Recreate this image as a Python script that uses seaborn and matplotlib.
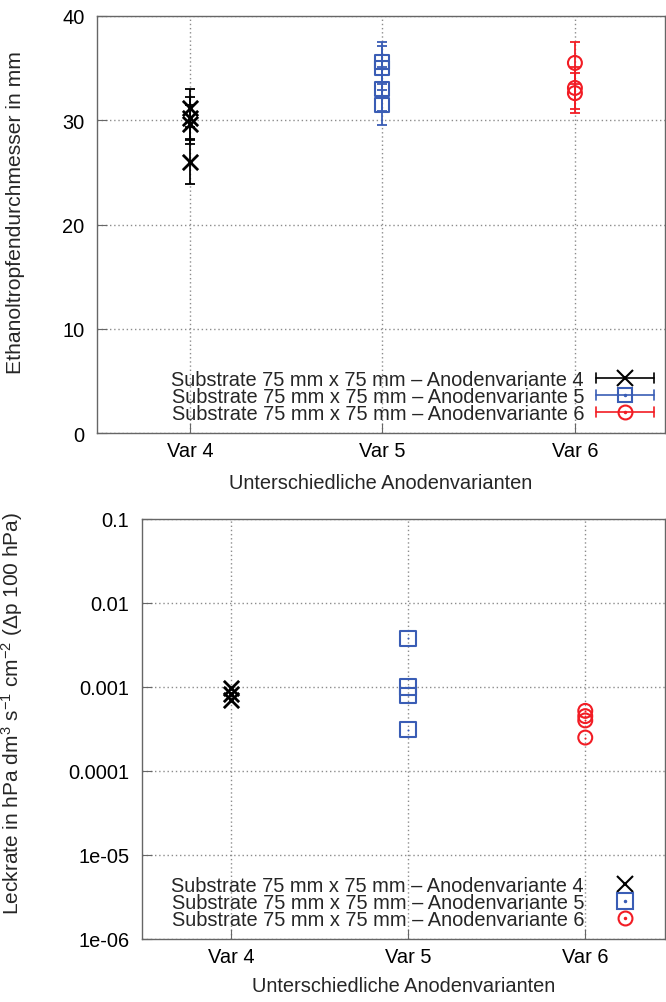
import numpy as np
import matplotlib
matplotlib.use("Agg")
import matplotlib.pyplot as plt
import seaborn as sns
from matplotlib.lines import Line2D
from matplotlib.legend_handler import HandlerBase
from matplotlib.ticker import FixedLocator, LogLocator, FuncFormatter, MultipleLocator, NullFormatter

# ---------------- data ----------------
categories = ["Var 4", "Var 5", "Var 6"]
cat_pos = [4, 5, 6]
labels = ["Substrate 75 mm x 75 mm \u2013 Anodenvariante 4",
          "Substrate 75 mm x 75 mm \u2013 Anodenvariante 5",
          "Substrate 75 mm x 75 mm \u2013 Anodenvariante 6"]

drop_var4 = [31.2, 30.2, 29.6, 26.0]
drop_var4_err = [1.8, 2.0, 1.9, 2.1]
drop_var5 = [35.6, 35.0, 33.0, 31.5]
drop_var5_err = [1.9, 2.1, 2.1, 2.0]
drop_var6 = [35.5, 33.1, 32.6]
drop_var6_err = [2.0, 2.0, 1.9]

leak_var4 = [0.00098, 0.00082, 0.00070]
leak_var5 = [0.0038, 0.00100, 0.00080, 0.00031]
leak_var6 = [0.00052, 0.00045, 0.00040, 0.00025]

top_yticks = [0, 10, 20, 30, 40]
bot_yticks = [1e-6, 1e-5, 1e-4, 1e-3, 1e-2, 1e-1]
bot_yticklabels = ["1e-06", "1e-05", "0.0001", "0.001", "0.01", "0.1"]

# ---------------- style ----------------
sns.set_theme(style="white")
plt.rcParams["font.family"] = ["Liberation Sans", "DejaVu Sans"]
plt.rcParams["mathtext.fontset"] = "custom"
plt.rcParams["mathtext.rm"] = "Liberation Sans"
plt.rcParams["mathtext.it"] = "Liberation Sans"
FS = 14.4

BLACK = "#000000"
BLUE = "#3a5db5"
RED = "#f21c24"
SPINE = "#666666"
GRID = "#8c8c8c"

fig = plt.figure(figsize=(6.66, 10.03), dpi=100)
ax1 = fig.add_axes([97/666, 1-434/1003, (665-97)/666, (434-17)/1003])
ax2 = fig.add_axes([142/666, 1-940/1003, (665-142)/666, (940-520)/1003])


class ErrHandler(HandlerBase):
    def __init__(self, errbar=True, dot=False):
        super().__init__()
        self.errbar = errbar
        self.dot = dot

    def create_artists(self, legend, orig_handle, xdescent, ydescent,
                       width, height, fontsize, trans):
        c = orig_handle.get_color()
        y = height / 2 - ydescent
        x0 = -xdescent
        arts = []
        if self.errbar:
            cap = 3.5
            arts.append(Line2D([x0, x0 + width], [y, y], color=c, lw=1.2))
            arts.append(Line2D([x0, x0], [y - cap, y + cap], color=c, lw=1.2))
            arts.append(Line2D([x0 + width, x0 + width], [y - cap, y + cap], color=c, lw=1.2))
        arts.append(Line2D([x0 + width / 2], [y], marker=orig_handle.get_marker(),
                           markersize=orig_handle.get_markersize(), color=c,
                           markerfacecolor="none", markeredgecolor=c,
                           markeredgewidth=1.5, linestyle="none"))
        if self.dot:
            arts.append(Line2D([x0 + width / 2], [y], marker="o", markersize=1.5,
                               color=c, linestyle="none"))
        for a in arts:
            a.set_transform(trans)
        return arts


def style_axes(ax):
    for s in ax.spines.values():
        s.set_color(SPINE)
        s.set_linewidth(1.0)
    ax.tick_params(axis="both", which="both", direction="in", colors=SPINE,
                   labelcolor="black", labelsize=FS)
    ax.tick_params(axis="y", which="major", length=7, width=0.8, pad=9)
    ax.tick_params(axis="y", which="minor", length=4, width=0.8)
    ax.tick_params(axis="x", which="major", length=7, width=0.8, pad=6)
    ax.tick_params(left=True, bottom=True, top=False, right=False)
    ax.grid(True, which="major", linestyle=(0, (1, 2)), color=GRID, linewidth=1.0)
    ax.set_axisbelow(True)


series_top = [(drop_var4, drop_var4_err, BLACK, "x", 11),
              (drop_var5, drop_var5_err, BLUE, "s", 10),
              (drop_var6, drop_var6_err, RED, "o", 10)]

for (vals, errs, col, mk, ms), xp in zip(series_top, cat_pos):
    xs = [xp] * len(vals)
    ax1.errorbar(xs, vals, yerr=errs, fmt="none", ecolor=col, elinewidth=1.3,
                 capsize=3.5, capthick=1.3, zorder=3)
    if mk == "x":
        sns.scatterplot(x=xs, y=vals, ax=ax1, marker="x", s=ms**2, color=col,
                        linewidth=2.0, legend=False, zorder=4)
    else:
        sns.scatterplot(x=xs, y=vals, ax=ax1, marker=mk, s=ms**2, facecolor="none",
                        edgecolor=col, linewidth=1.5, legend=False, zorder=4)

ax1.set_xlim(3.517, 6.468)
ax1.set_ylim(0, 40)
ax1.xaxis.set_major_locator(FixedLocator(cat_pos))
ax1.set_xticklabels(categories)
ax1.yaxis.set_major_locator(FixedLocator(top_yticks))
ax1.yaxis.set_minor_locator(MultipleLocator(1))
style_axes(ax1)
ax1.set_xlabel("Unterschiedliche Anodenvarianten", fontsize=FS, labelpad=9)
ax1.set_ylabel("Ethanoltropfendurchmesser in mm", fontsize=15.2)
ax1.yaxis.set_label_coords(-(97-25)/568, (434-213)/417)

h_top = [Line2D([], [], color=c, marker=m, markersize=ms) for (_, _, c, m, ms) in series_top]
ax1.legend(h_top, labels, handler_map={h: ErrHandler(True, m != "x") for h, (_, _, c, m, ms) in zip(h_top, series_top)},
           loc="lower right", bbox_to_anchor=(654/666, 1-424/1003), bbox_transform=fig.transFigure,
           frameon=False, markerfirst=False, fontsize=FS, handlelength=2.9,
           handletextpad=0.6, labelspacing=-0.1, borderpad=0, borderaxespad=0)

series_bot = [(leak_var4, BLACK, "x", 11),
              (leak_var5, BLUE, "s", 11),
              (leak_var6, RED, "o", 10)]

for (vals, col, mk, ms), xp in zip(series_bot, cat_pos):
    xs = [xp] * len(vals)
    if mk == "x":
        sns.scatterplot(x=xs, y=vals, ax=ax2, marker="x", s=ms**2, color=col,
                        linewidth=2.0, legend=False, zorder=4)
    else:
        sns.scatterplot(x=xs, y=vals, ax=ax2, marker=mk, s=ms**2, facecolor="none",
                        edgecolor=col, linewidth=1.5, legend=False, zorder=4)
        sns.scatterplot(x=xs, y=vals, ax=ax2, marker="o", s=2, color=col,
                        linewidth=0, legend=False, zorder=5)

ax2.set_yscale("log")
ax2.set_xlim(3.4986, 6.45)
ax2.set_ylim(1e-6, 0.1)
ax2.xaxis.set_major_locator(FixedLocator(cat_pos))
ax2.set_xticklabels(categories)
ax2.yaxis.set_major_locator(FixedLocator(bot_yticks))
ax2.yaxis.set_major_formatter(FuncFormatter(lambda v, p: bot_yticklabels[bot_yticks.index(min(bot_yticks, key=lambda t: abs(np.log10(t) - np.log10(v))))]))
ax2.yaxis.set_minor_locator(LogLocator(base=10, subs=np.arange(2, 10), numticks=20))
ax2.yaxis.set_minor_formatter(NullFormatter())
style_axes(ax2)
ax2.set_xlabel("Unterschiedliche Anodenvarianten", fontsize=FS, labelpad=7)
ax2.set_ylabel(r"Leckrate in hPa dm$^3$ s$^{-1}$ cm$^{-2}$ ($\Delta$p 100 hPa)", fontsize=15)
ax2.yaxis.set_label_coords(-(142-25)/523, (940-714)/420)

h_bot = [Line2D([], [], color=c, marker=m, markersize=ms) for (_, c, m, ms) in series_bot]
ax2.legend(h_bot, labels, handler_map={h: ErrHandler(False, m != "x") for h, (_, c, m, ms) in zip(h_bot, series_bot)},
           loc="lower right", bbox_to_anchor=(654/666, 1-930/1003), bbox_transform=fig.transFigure,
           frameon=False, markerfirst=False, fontsize=FS, handlelength=2.9,
           handletextpad=0.6, labelspacing=-0.1, borderpad=0, borderaxespad=0)

fig.savefig("out.png", dpi=100)
